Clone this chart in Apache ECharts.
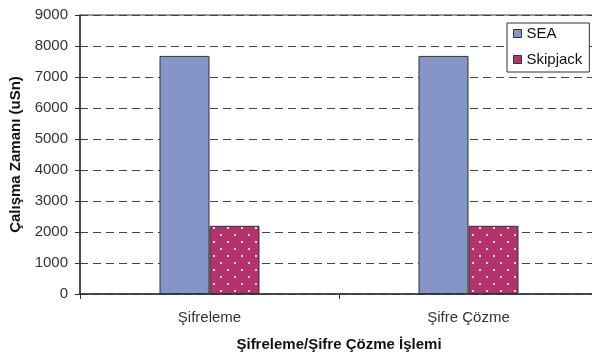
<!DOCTYPE html>
<html>
<head>
<meta charset="utf-8">
<script src="https://cdn.jsdelivr.net/npm/echarts@6/dist/echarts.min.js"></script>
<style>
  html, body { margin: 0; padding: 0; background: #fff; }
  #chart { width: 592px; height: 353px; }
</style>
</head>
<body>
<div id="chart"></div>
<script>
const categories = ['Şifreleme', 'Şifre Çözme']
const seaValues = [7680, 7680]
const skipjackValues = [2200, 2200]
const seriesNames = ['SEA', 'Skipjack']

// dotted fill for Skipjack bars
function dotPattern() {
  const c = document.createElement('canvas')
  c.width = 14
  c.height = 14
  const ctx = c.getContext('2d')
  ctx.fillStyle = '#b5336d'
  ctx.fillRect(0, 0, 14, 14)
  ctx.fillStyle = 'rgba(255,255,255,0.85)'
  ctx.fillRect(3, 3, 2, 2)
  ctx.fillRect(10, 10, 2, 2)
  return c
}

const myChart = echarts.init(document.getElementById('chart'))
const font = 'Liberation Sans, Arial'
const axisText = { fontFamily: font, fontSize: 15, color: '#333' }

const options = {
  animation: false,
  textStyle: { fontFamily: font },
  grid: {
    left: 80, top: 15, width: 518, height: 279,
    outerBoundsMode: 'none',
    show: true, borderColor: '#333', borderWidth: 1
  },
  legend: {
    orient: 'vertical',
    left: 507, top: 23,
    padding: [3, 7, 5, 6],
    itemGap: 11,
    itemWidth: 8, itemHeight: 8,
    backgroundColor: '#fff',
    borderColor: '#333', borderWidth: 1, borderRadius: 0,
    textStyle: { fontFamily: font, fontSize: 15, color: '#111' },
    data: [
      { name: seriesNames[0], icon: 'rect', itemStyle: { color: '#8496c8', borderColor: '#333', borderWidth: 1 } },
      { name: seriesNames[1], icon: 'rect', itemStyle: { color: '#b5336d', borderColor: '#333', borderWidth: 1 } }
    ]
  },
  xAxis: {
    type: 'category',
    data: categories,
    name: 'Şifreleme/Şifre Çözme İşlemi',
    nameLocation: 'middle',
    nameGap: 43,
    nameTextStyle: { fontFamily: font, fontSize: 15, fontWeight: 'bold', color: '#111' },
    axisLine: { lineStyle: { color: '#333', width: 1.5 } },
    axisTick: { show: true, length: 5, lineStyle: { color: '#333' } },
    axisLabel: Object.assign({ margin: 16 }, axisText)
  },
  yAxis: {
    type: 'value',
    min: 0, max: 9000, interval: 1000,
    name: 'Çalışma Zamanı (uSn)',
    nameLocation: 'middle',
    nameGap: 57,
    nameTextStyle: { fontFamily: font, fontSize: 15, fontWeight: 'bold', color: '#111' },
    axisLine: { show: true, lineStyle: { color: '#333', width: 1.5 } },
    axisTick: { show: true, length: 5, lineStyle: { color: '#333' } },
    axisLabel: Object.assign({ margin: 12, formatter: v => String(v) }, axisText),
    splitLine: { lineStyle: { color: '#444', type: [8, 5], width: 1 } }
  },
  series: [
    {
      name: seriesNames[0],
      type: 'bar',
      data: seaValues,
      barWidth: 50,
      barGap: '0%',
      itemStyle: { color: '#8496c8', borderColor: '#333', borderWidth: 1 }
    },
    {
      name: seriesNames[1],
      type: 'bar',
      data: skipjackValues,
      barWidth: 50,
      barGap: '0%',
      itemStyle: { color: { image: dotPattern(), repeat: 'repeat' }, borderColor: '#333', borderWidth: 1 }
    }
  ]
}
myChart.setOption(options)
</script>
</body>
</html>
